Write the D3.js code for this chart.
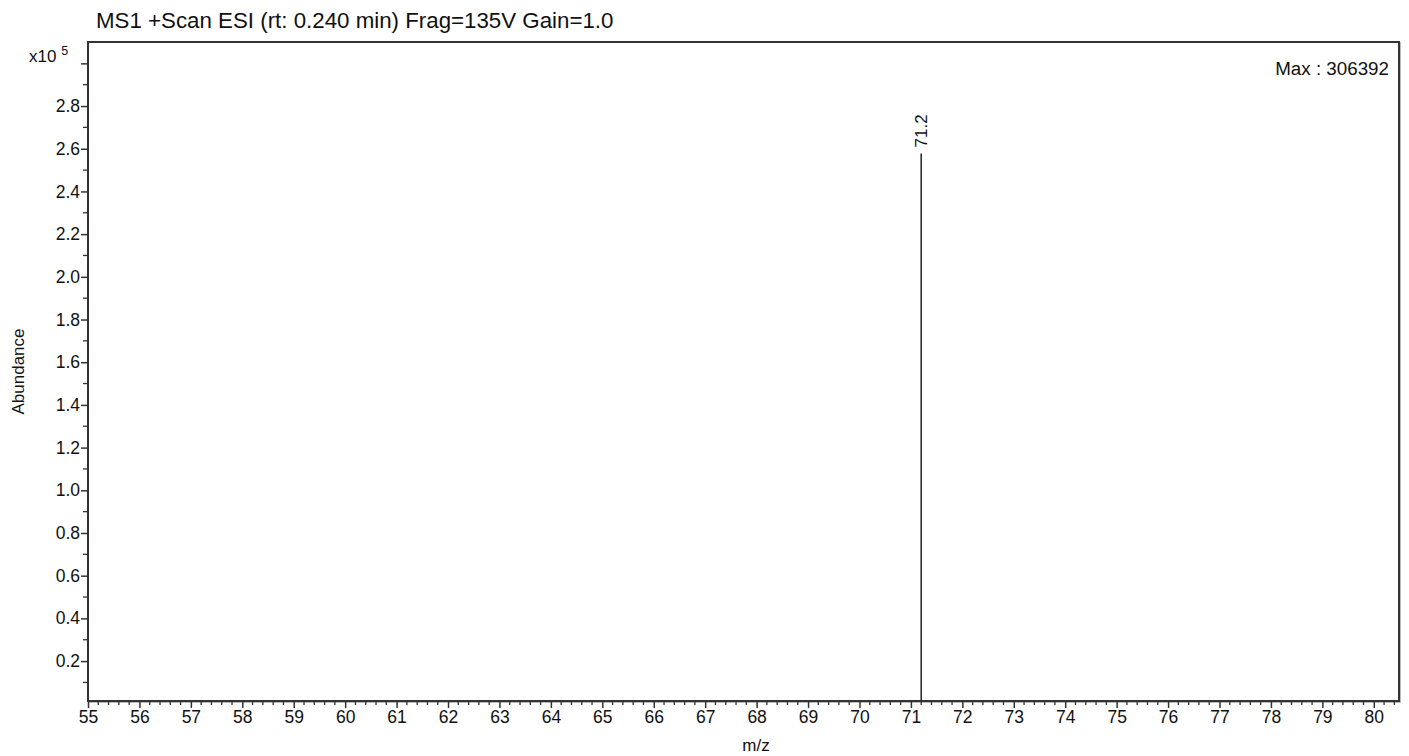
<!DOCTYPE html>
<html><head><meta charset="utf-8">
<script src="https://cdn.jsdelivr.net/npm/d3@7"></script>
<style>body{margin:0;background:#fff;}svg{display:block;font-family:"Liberation Sans",Arial,sans-serif;}</style>
</head><body><svg id="c" width="1409" height="756"></svg>
<script>
const title = "MS1 +Scan ESI (rt: 0.240 min) Frag=135V Gain=1.0";
const peakMz = [71.2];
const peakAbundance = [257800];
const peakLabels = ["71.2"];
const maxLabel = "Max : 306392";
const xTickValues = [55,56,57,58,59,60,61,62,63,64,65,66,67,68,69,70,71,72,73,74,75,76,77,78,79,80];
const yTickValues = [0.2,0.4,0.6,0.8,1.0,1.2,1.4,1.6,1.8,2.0,2.2,2.4,2.6,2.8];
const xDomain = [55, 80.49];
const yDomain = [0.013, 3.1];
const yExponent = 5;

const svg = d3.select("#c");
const L = 88, R = 1399, T = 42, B = 701;
const x = d3.scaleLinear().domain(xDomain).range([L, R]);
const y = d3.scaleLinear().domain(yDomain).range([B, T]);
const scale = Math.pow(10, yExponent);
const FONT = "'Liberation Sans',Arial,sans-serif";

// title
svg.append("text").attr("x", 96).attr("y", 28).attr("font-size", 22.3).attr("fill", "#111").text(title);

// frame shadow + frame
svg.append("rect").attr("x", L+1).attr("y", T+1).attr("width", R-L).attr("height", B-T)
  .attr("fill", "none").attr("stroke", "#bbb").attr("stroke-width", 2);
svg.append("rect").attr("x", L).attr("y", T).attr("width", R-L).attr("height", B-T)
  .attr("fill", "#fff").attr("stroke", "#333").attr("stroke-width", 2);

// minor ticks x
const xMinor = d3.range(xDomain[0]*5, xDomain[1]*5 + 0.001).map(v => v/5).filter(v => Math.abs(v - Math.round(v)) > 1e-6);
const gx = svg.append("g").attr("transform", `translate(0,${B})`);
gx.selectAll("line.minor").data(xMinor).join("line")
  .attr("x1", d => x(d)).attr("x2", d => x(d)).attr("y1", 0).attr("y2", 4)
  .attr("stroke", "#333").attr("stroke-width", 1.3);
gx.call(d3.axisBottom(x).tickValues(xTickValues).tickFormat(d3.format("d")).tickSize(7).tickPadding(3))
  .call(g => g.select(".domain").remove())
  .call(g => g.selectAll(".tick line").attr("stroke", "#333").attr("stroke-width", 1.5))
  .call(g => g.selectAll(".tick text").attr("font-size", 17.5).attr("fill", "#111").attr("font-family", FONT));

// y axis
const yMinor = d3.range(1, 31).map(v => v/10).filter(v => Math.abs(v*5 - Math.round(v*5)) > 1e-6);
const gy = svg.append("g").attr("transform", `translate(${L},0)`);
gy.selectAll("line.minor").data(yMinor).join("line")
  .attr("x1", 0).attr("x2", -5).attr("y1", d => y(d)).attr("y2", d => y(d))
  .attr("stroke", "#333").attr("stroke-width", 1.3);
gy.call(d3.axisLeft(y).tickValues(yTickValues.concat([3.0])).tickFormat(d => d === 3.0 ? "" : d3.format(".1f")(d)).tickSize(7).tickPadding(1))
  .call(g => g.select(".domain").remove())
  .call(g => g.selectAll(".tick line").attr("stroke", "#333").attr("stroke-width", 1.5))
  .call(g => g.selectAll(".tick text").attr("font-size", 17.5).attr("fill", "#111").attr("font-family", FONT));

// exponent label
const ex = svg.append("text").attr("x", 29).attr("y", y(3.0) - 1).attr("font-size", 17).attr("fill", "#111");
ex.append("tspan").text("x10 ");
ex.append("tspan").attr("dy", -7).attr("font-size", 12.5).text(yExponent);

// axis labels
svg.append("text").attr("transform", `translate(24,${(T+B)/2}) rotate(-90)`).attr("text-anchor", "middle")
  .attr("font-size", 17).attr("fill", "#111").text("Abundance");
svg.append("text").attr("x", 756).attr("y", 751).attr("text-anchor", "middle")
  .attr("font-size", 17).attr("fill", "#111").text("m/z");

// max label
svg.append("text").attr("x", 1389).attr("y", 75).attr("text-anchor", "end")
  .attr("font-size", 18.8).attr("fill", "#111").text(maxLabel);

// peaks
const peaks = peakMz.map((m, i) => ({m, a: peakAbundance[i]/scale, l: peakLabels[i]}));
svg.selectAll("line.peak").data(peaks).join("line")
  .attr("x1", d => x(d.m)).attr("x2", d => x(d.m)).attr("y1", B).attr("y2", d => y(d.a))
  .attr("stroke", "#222").attr("stroke-width", 1.5);
svg.selectAll("text.plabel").data(peaks).join("text")
  .attr("transform", d => `translate(${x(d.m)+6},${y(d.a)-6}) rotate(-90)`)
  .attr("font-size", 17).attr("fill", "#111").text(d => d.l);
</script></body></html>
